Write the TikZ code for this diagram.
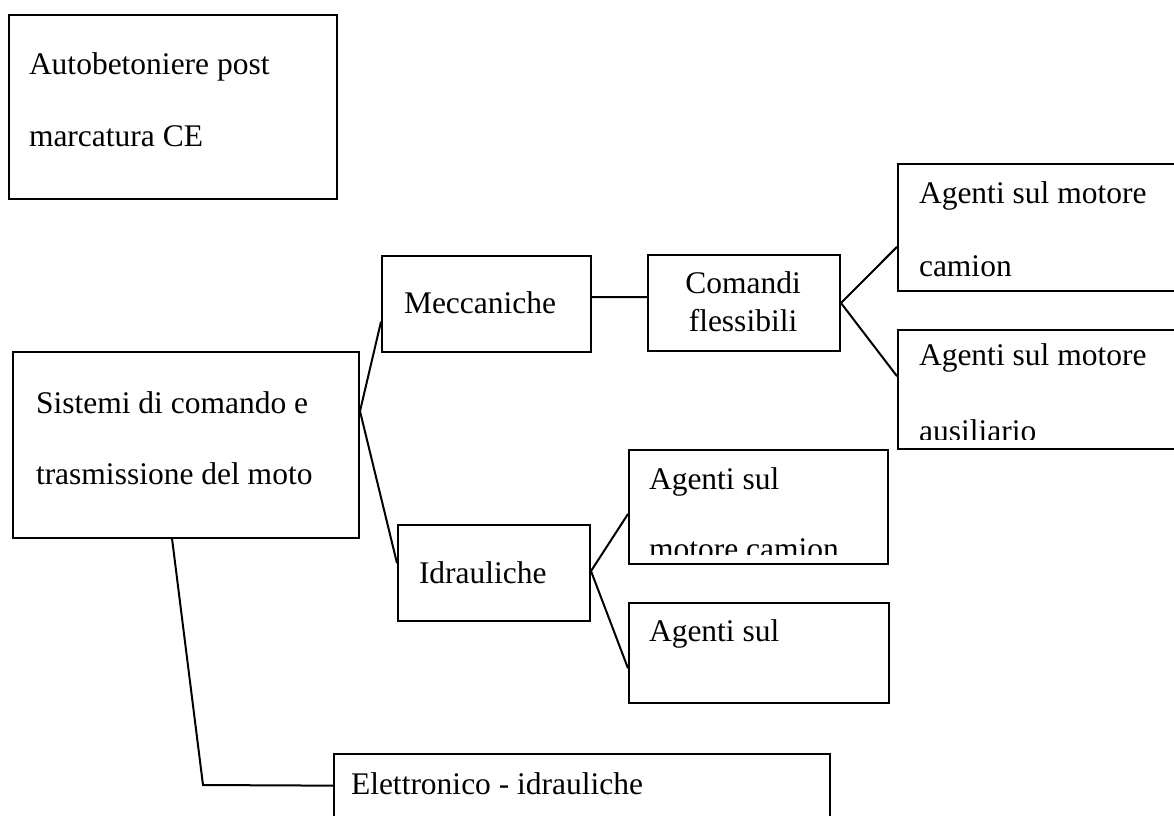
\documentclass[tikz,border=0pt]{standalone}
\usepackage{fontspec}
\setmainfont{Liberation Serif}
\usetikzlibrary{calc, positioning}

\begin{document}
\begin{tikzpicture}[x=1pt, y=-1pt, line width=2pt,
  box/.style={draw, rectangle, anchor=north west, inner sep=0pt},
  txt/.style={anchor=base west, inner sep=0pt, font=\fontsize{31.5}{36}\selectfont},
  ctxt/.style={txt, anchor=base}]
\clip (0,0) rectangle (1174,815);
% boxes
\node[box, minimum width=328, minimum height=184] (T) at (8,14) {};
\node[box, minimum width=346, minimum height=186] (S) at (12,351) {};
\node[box, minimum width=209, minimum height=96] (M) at (381,255) {};
\node[box, minimum width=192, minimum height=96] (C) at (647,254) {};
\node[box, minimum width=300, minimum height=127] (A1) at (897,163) {};
\node[box, minimum width=300, minimum height=119] (A2) at (897,329) {};
\node[box, minimum width=192, minimum height=96] (I) at (397,524) {};
\node[box, minimum width=259, minimum height=114] (B1) at (628,449) {};
\node[box, minimum width=260, minimum height=100] (B2) at (628,602) {};
\node[box, minimum width=496, minimum height=100] (E) at (333,753) {};
% texts
\node[txt] (t1) at (28,74) {Autobetoniere post};
\node[txt] (t2) at (28,146) {marcatura CE};
\node[txt] (s1) at (35,413) {Sistemi di comando e};
\node[txt] (s2) at (35,484) {trasmissione del moto};
\node[txt] (m1) at (403,313) {Meccaniche};
\node[ctxt] (c1) at (743,293) {Comandi};
\node[ctxt] (c2) at (743,331) {flessibili};
\node[txt] (a1a) at (918,203) {Agenti sul motore};
\node[txt] (a1b) at (918,276) {camion};
\node[txt] (a2a) at (918,365) {Agenti sul motore};
\begin{scope}
\clip (A2.north west) rectangle ($(A2.south east)+(0,-11)$);
\node[txt] (a2b) at (918,441) {ausiliario};
\end{scope}
\node[txt] (i1) at (418,583) {Idrauliche};
\node[txt] (b1a) at (648,489) {Agenti sul};
\begin{scope}
\clip (B1.north west) rectangle ($(B1.south east)+(0,-11)$);
\node[txt] (b1b) at (648,559) {motore camion};
\end{scope}
\node[txt] (b2a) at (648,641) {Agenti sul};
\node[txt] (e1) at (350,794) {Elettronico - idrauliche};
% connectors
\draw ($(S.north east)!0.32!(S.south east)$) -- ($(M.north west)!0.68!(M.south west)$);
\draw ($(S.north east)!0.32!(S.south east)$) -- ($(I.north west)!0.40!(I.south west)$);
\draw ($(M.north east)!0.43!(M.south east)$) -- ($(C.north west)!0.44!(C.south west)$);
\draw (C.east) -- ($(A1.north west)!0.65!(A1.south west)$);
\draw (C.east) -- ($(A2.north west)!0.39!(A2.south west)$);
\draw ($(I.north east)!0.48!(I.south east)$) -- ($(B1.north west)!0.56!(B1.south west)$);
\draw ($(I.north east)!0.48!(I.south east)$) -- ($(B2.north west)!0.65!(B2.south west)$);
\coordinate (k) at (203,785);
\draw ($(S.south west)!0.46!(S.south east)$) -- (k) -- ($(E.north west)!0.32!(E.south west)$);
\end{tikzpicture}
\end{document}
